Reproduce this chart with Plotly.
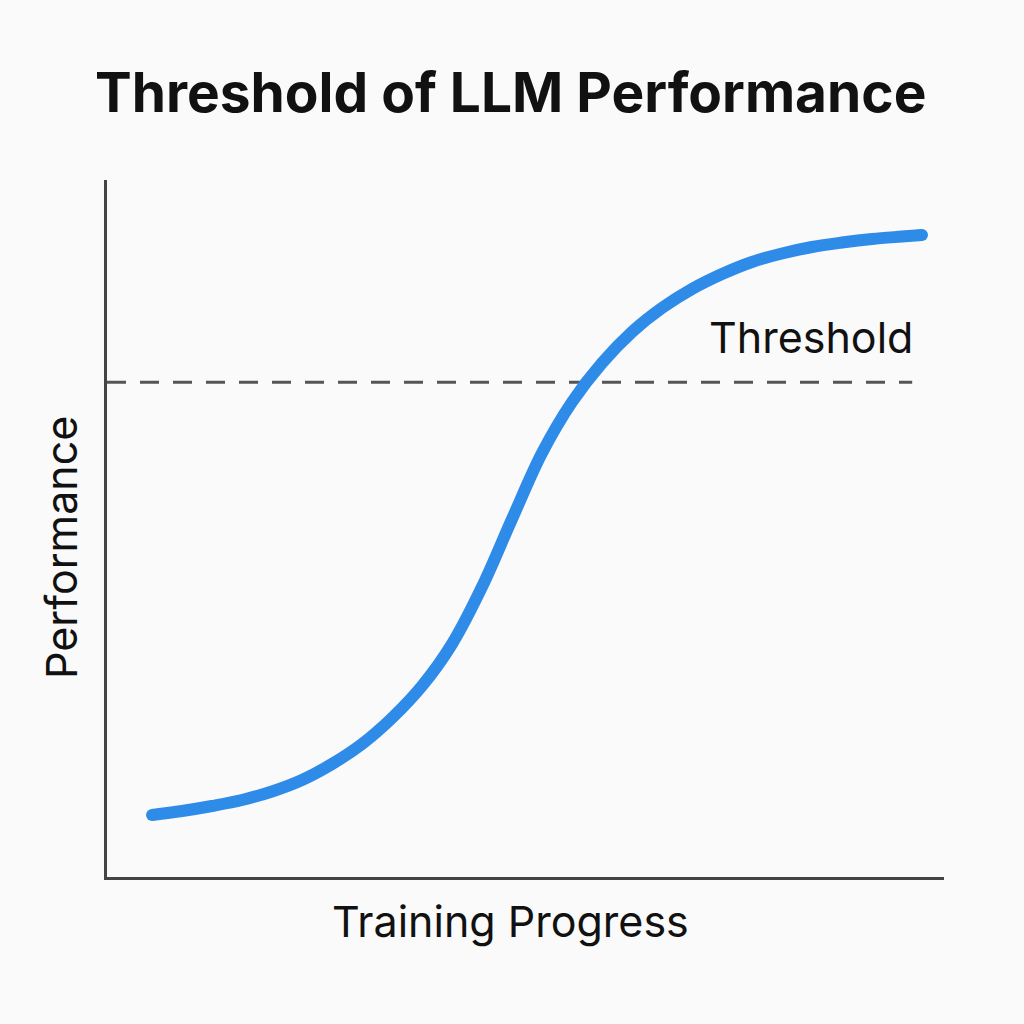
import plotly.graph_objects as go

# Data (percent of axis span)
progress = [5.38, 8.96, 12.54, 16.13, 19.71, 23.30, 26.88, 30.47, 34.05, 37.63, 41.22, 44.80,
            48.39, 51.97, 55.56, 59.14, 62.72, 66.31, 69.89, 73.48, 77.06, 80.65, 84.23,
            87.81, 91.40, 94.98, 97.37]
performance = [8.90, 9.47, 10.19, 11.05, 12.27, 13.92, 16.21, 19.08, 22.81, 27.40, 33.43, 41.61,
               51.36, 60.83, 68.15, 73.74, 78.19, 81.64, 84.36, 86.51, 88.24, 89.45, 90.39,
               91.03, 91.54, 91.89, 92.11]
threshold_value = 71.0
threshold_span = [0, 96.2]
threshold_label = "Threshold"
title_text = "Threshold of LLM Performance"
x_title = "Training Progress"
y_title = "Performance"

BLUE = "#2f8be8"
FONT = "Inter"
BG = "#fafafa"

fig = go.Figure()
fig.add_trace(go.Scatter(
    x=threshold_span, y=[threshold_value, threshold_value], mode="lines",
    line=dict(color="#555555", width=3, dash="19px,14px"), hoverinfo="skip", showlegend=False))
fig.add_trace(go.Scatter(
    x=progress, y=performance, mode="lines",
    line=dict(color=BLUE, width=12, shape="spline", smoothing=1.0), showlegend=False))
fig.add_trace(go.Scatter(
    x=[progress[0], progress[-1]], y=[performance[0], performance[-1]], mode="markers",
    marker=dict(color=BLUE, size=12, line=dict(width=0)), showlegend=False, hoverinfo="skip"))

fig.add_annotation(x=threshold_span[1], y=77.5, xref="x", yref="y", text=threshold_label,
                   showarrow=False, xanchor="right", yanchor="middle", xshift=3,
                   font=dict(family=FONT, size=43, color="#111111"))
fig.add_annotation(x=0.4815, y=1.1263, xref="paper", yref="paper", text=f"<b>{title_text}</b>",
                   showarrow=False, xanchor="center", yanchor="middle",
                   font=dict(family=FONT, size=55, color="#111111"))
fig.add_annotation(x=0.4815, y=-0.0631, xref="paper", yref="paper", text=x_title,
                   showarrow=False, xanchor="center", yanchor="middle",
                   font=dict(family=FONT, size=43, color="#111111"))
fig.add_annotation(x=-0.055, y=0.4735, xref="paper", yref="paper", text=y_title, textangle=-90,
                   showarrow=False, xanchor="center", yanchor="middle",
                   font=dict(family=FONT, size=43, color="#111111"))

axis_common = dict(showgrid=False, zeroline=False, showticklabels=False, ticks="",
                   showline=True, linecolor="#444444", linewidth=3, fixedrange=True)
fig.update_xaxes(range=[0, 100], **axis_common)
fig.update_yaxes(range=[0, 100], **axis_common)

fig.update_layout(
    width=1024, height=1024,
    margin=dict(l=107, r=80, t=180, b=147),
    paper_bgcolor=BG, plot_bgcolor=BG,
    showlegend=False,
)

fig.write_html("out.html")
